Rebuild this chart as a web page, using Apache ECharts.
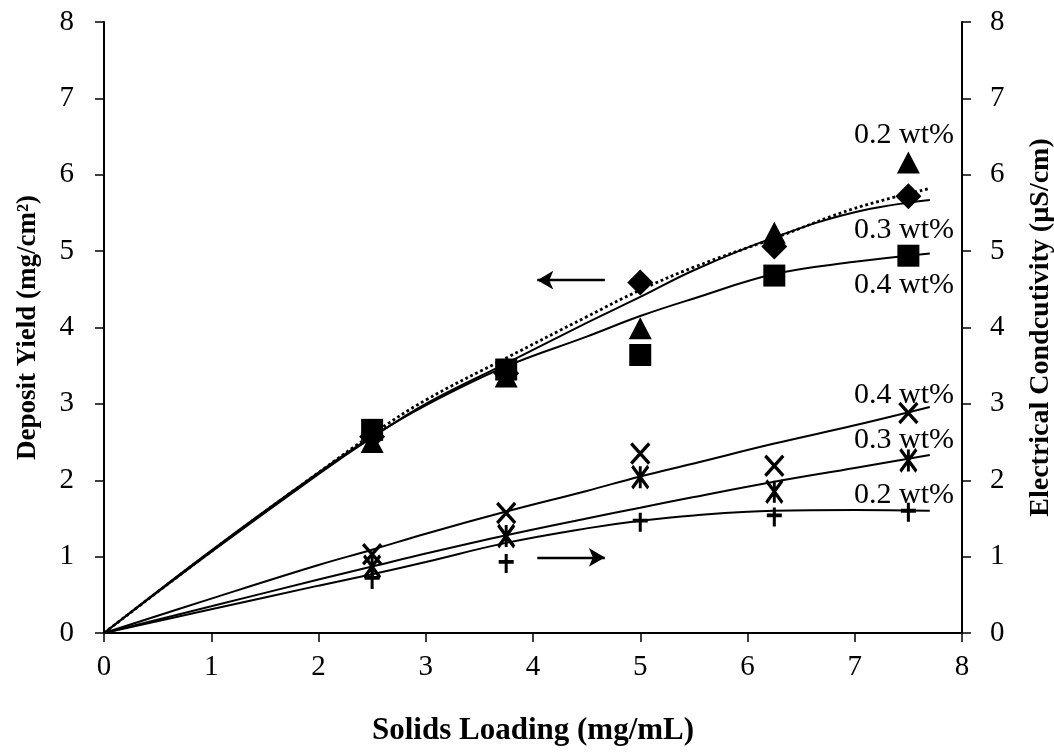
<!DOCTYPE html>
<html>
<head>
<meta charset="utf-8">
<script src="https://cdn.jsdelivr.net/npm/echarts@6/dist/echarts.min.js"></script>
<style>html,body{margin:0;padding:0;background:#fff;}#c{width:1054px;height:755px;}</style>
</head>
<body>
<div id="c"></div>
<script>
// Measured points (solids loading, mg/mL)
var loading = [2.5, 3.75, 5, 6.25, 7.5];
// Deposit yield (mg/cm2)
var yield02 = [2.50, 3.36, 3.99, 5.24, 6.16];   // triangles
var yield03 = [2.57, 3.40, 4.59, 5.06, 5.72];   // diamonds
var yield04 = [2.66, 3.45, 3.64, 4.68, 4.94];   // squares
// Electrical conductivity (uS/cm)
var cond04 = [1.03, 1.57, 2.35, 2.19, 2.88];    // x marks
var cond03 = [0.87, 1.27, 2.04, 1.85, 2.26];    // asterisks
var cond02 = [0.70, 0.91, 1.45, 1.52, 1.58];    // plus marks

// Trend curves
var curveX = [0, 1, 2, 2.5, 3, 3.75, 4.5, 5, 5.5, 6.25, 7, 7.7];
var trendY02 = [0, 1.06, 2.08, 2.56, 3.00, 3.53, 4.06, 4.40, 4.75, 5.18, 5.51, 5.67];
var trendY03 = [0, 1.07, 2.10, 2.60, 3.05, 3.60, 4.14, 4.49, 4.79, 5.17, 5.56, 5.82];
var trendY04 = [0, 1.08, 2.10, 2.57, 2.98, 3.49, 3.88, 4.15, 4.38, 4.70, 4.86, 4.97];
var trendC04 = [0, 0.45, 0.89, 1.09, 1.30, 1.59, 1.86, 2.05, 2.22, 2.48, 2.72, 2.96];
var trendC03 = [0, 0.35, 0.70, 0.87, 1.04, 1.28, 1.50, 1.64, 1.78, 1.98, 2.16, 2.33];
var trendC02 = [0, 0.31, 0.62, 0.77, 0.93, 1.18, 1.37, 1.47, 1.54, 1.60, 1.61, 1.60];

var xTicks = ['0','1','2','3','4','5','6','7','8'];

// Annotation labels [x, y, text] (data units)
var labelsLeft = [[7.46, 6.52, '0.2 wt%'], [7.46, 5.27, '0.3 wt%'], [7.46, 4.55, '0.4 wt%']];
var labelsRight = [[7.46, 3.12, '0.4 wt%'], [7.46, 2.53, '0.3 wt%'], [7.46, 1.81, '0.2 wt%']];
// Arrows [[x1,y1],[x2,y2]] (data units)
var arrowLeft = [[4.67, 4.62], [4.04, 4.62]];
var arrowRight = [[4.04, 0.99], [4.67, 0.99]];

function pairs(xs, ys){ return xs.map(function(x,i){ return [x, ys[i]]; }); }

var FONT = '"Liberation Serif", "DejaVu Serif", serif';
var chart = echarts.init(document.getElementById('c'));

function curve(ys, axis, dotted){
  return {type:'line', yAxisIndex:axis, data:pairs(curveX, ys), smooth:0.4, showSymbol:false, silent:true,
    lineStyle:{color:'#000', width: dotted?2.8:2, type: dotted?'dotted':'solid', opacity:1}, z:2};
}
function marks(ys, axis, symbol, size, stroke){
  var s = {type:'scatter', yAxisIndex:axis, data:pairs(loading, ys), symbol:symbol, symbolSize:size, z:3, silent:true};
  if (stroke) s.itemStyle = {color:'rgba(0,0,0,0)', borderColor:'#000', borderWidth:3.4, opacity:1};
  else s.itemStyle = {color:'#000', opacity:1};
  return s;
}
function labels(arr, axis){
  return {type:'scatter', yAxisIndex:axis, symbolSize:0, silent:true, z:4,
    itemStyle:{opacity:0},
    data: arr.map(function(a){ return {value:[a[0], a[1]], name:a[2]}; }),
    label:{show:true, position:'inside', formatter:'{b}', color:'#000', opacity:1, textBorderWidth:0,
      fontFamily:FONT, fontSize:30}};
}
function arrow(seg, axis){
  return {type:'line', yAxisIndex:axis, data:[], silent:true,
    markLine:{silent:true, symbol:['none','arrow'], symbolSize:[14,16], label:{show:false},
      lineStyle:{color:'#000', width:2.4, type:'solid', opacity:1},
      data:[[{coord:seg[0]}, {coord:seg[1]}]]}};
}

var axisCommon = {
  type:'value', min:0, max:8, interval:1,
  axisLine:{show:true, lineStyle:{color:'#000', width:2}},
  axisTick:{show:true, length:9, inside:false, lineStyle:{color:'#000', width:1.5}},
  splitLine:{show:false},
  axisLabel:{color:'#000', fontFamily:FONT, fontSize:29},
  nameLocation:'middle',
  nameTextStyle:{color:'#000', fontFamily:FONT, fontSize:27, fontWeight:'bold'}
};

chart.setOption({
  animation:false,
  backgroundColor:'#fff',
  grid:{left:104, right:92, top:22, bottom:122, containLabel:false, outerBoundsMode:'none'},
  xAxis: Object.assign({}, axisCommon, {
    name:'Solids Loading (mg/mL)', nameGap:82,
    nameTextStyle:Object.assign({}, axisCommon.nameTextStyle, {fontSize:31}),
    axisLabel:Object.assign({}, axisCommon.axisLabel, {margin:20, formatter:function(v){return xTicks[Math.round(v)];}})
  }),
  yAxis:[
    Object.assign({}, axisCommon, {position:'left', name:'Deposit Yield (mg/cm²)', nameGap:62, nameRotate:90,
      axisLabel:Object.assign({}, axisCommon.axisLabel, {margin:30})}),
    Object.assign({}, axisCommon, {position:'right', name:'Electrical Condcutivity (µS/cm)', nameGap:65, nameRotate:90,
      nameTextStyle:Object.assign({}, axisCommon.nameTextStyle, {fontSize:28}),
      axisLabel:Object.assign({}, axisCommon.axisLabel, {margin:28})})
  ],
  series:[
    curve(trendY02, 0, false),
    curve(trendY03, 0, true),
    curve(trendY04, 0, false),
    curve(trendC04, 1, false),
    curve(trendC03, 1, false),
    curve(trendC02, 1, false),
    marks(yield03, 0, 'diamond', [26,26], false),
    marks(yield02, 0, 'triangle', [23,22], false),
    marks(yield04, 0, 'rect', [22,22], false),
    marks(cond04, 1, 'path://M0,0L10,11M10,0L0,11', [18,20], true),
    marks(cond03, 1, 'path://M0,0L10,12M10,0L0,12M5,0L5,12', [16,22], true),
    marks(cond02, 1, 'path://M5,0L5,12M0,5L10,5', [15,19], true),
    labels(labelsLeft, 0),
    labels(labelsRight, 1),
    arrow(arrowLeft, 0),
    arrow(arrowRight, 1)
  ]
});
</script>
</body>
</html>
